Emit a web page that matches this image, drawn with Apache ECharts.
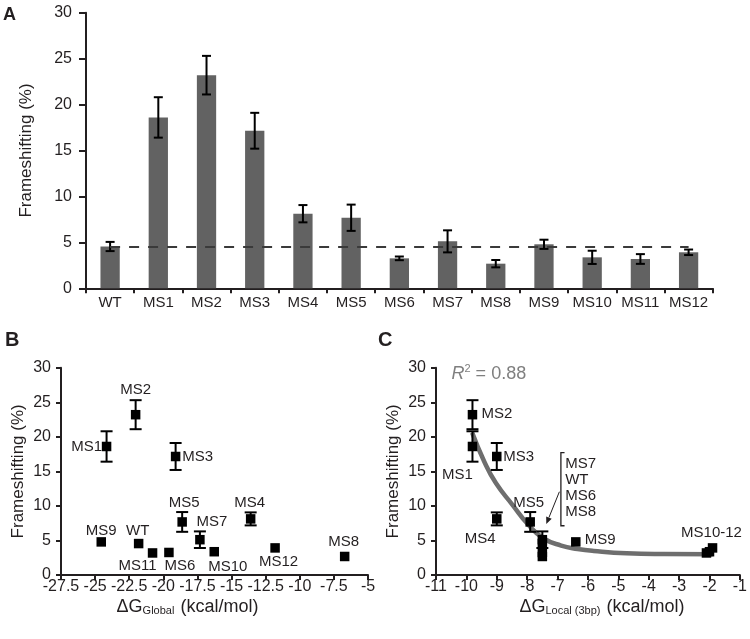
<!DOCTYPE html>
<html><head><meta charset="utf-8">
<script src="https://cdn.jsdelivr.net/npm/echarts@6/dist/echarts.min.js"></script>
<style>html,body{margin:0;padding:0;background:#fff}#c{width:750px;height:639px}</style>
</head><body><div id="c"></div>
<script>
// ---- data ----
const categories = ['WT','MS1','MS2','MS3','MS4','MS5','MS6','MS7','MS8','MS9','MS10','MS11','MS12'];
const frameshift = [4.55, 18.6, 23.2, 17.15, 8.12, 7.68, 3.26, 5.11, 2.68, 4.79, 3.37, 3.19, 3.92];
const frameshiftErr = [0.5, 2.2, 2.1, 1.95, 0.94, 1.43, 0.2, 1.2, 0.4, 0.5, 0.72, 0.53, 0.3];
const dGGlobal = [-21.81, -24.16, -22.03, -19.1, -13.6, -18.62, -19.59, -17.32, -6.71, -24.55, -16.27, -20.79, -11.81];
const dGLocal = [-7.5, -9.8, -9.8, -9.0, -9.0, -7.9, -7.5, -7.5, -7.5, -6.4, -2.0, -2.1, -1.9];
const fitX = [-9.81, -9.41, -9.03, -8.49, -7.96, -7.47, -6.88, -6.34, -5.81, -4.73, -3.5, -1.9];
const fitY = [20.6, 16.4, 13.3, 10.2, 7.26, 5.32, 4.26, 3.77, 3.48, 3.14, 3.03, 3.0];
const yTicksPct = {min: 0, max: 30, interval: 5};
const xTicksGlobal = {min: -27.5, max: -5, interval: 2.5};
const xTicksLocal = {min: -11, max: -1, interval: 1};
const rSquared = '0.88';
const bracketNames = ['MS7', 'WT', 'MS6', 'MS8'];

// ---- styles / label layout ----
const font = "'Liberation Sans', Arial, Helvetica, sans-serif";
const ink = '#231f20';
const symSize = 9.5;
const labelOffB = {WT:[-1,-13], MS1:[-20,0], MS2:[0,-25], MS3:[22,0], MS4:[-1,-16], MS5:[2,-19],
  MS6:[11,13.5], MS7:[12,-18], MS8:[-1,-15], MS9:[0,-11], MS10:[13.5,15], MS11:[-15,13], MS12:[3.5,13.5]};
const labelOffC = {MS1:[-15,28.5], MS2:[24.5,-1], MS3:[22,0], MS4:[-16.5,19.5], MS5:[-1.5,-19],
  MS9:[24.5,-2.5], MS10:[2,-19]};
const labelTextC = {MS10:'MS10-12'};
const minVisibleErr = 0.9; // smaller bars hide inside the square markers in B and C

const chart = echarts.init(document.getElementById('c'));

function axisCommon(extra) {
  return Object.assign({
    axisLine: {show: true, onZero: false, lineStyle: {color: ink, width: 2}},
    axisTick: {show: true, inside: false, length: 5, lineStyle: {color: ink, width: 2}},
    splitLine: {show: false},
    axisLabel: {color: ink, fontFamily: font, fontSize: 16, margin: 4, hideOverlap: false}
  }, extra);
}

function errorSeries(xi, yi, data, capW) {
  return {
    type: 'custom', xAxisIndex: xi, yAxisIndex: yi, data: data, z: 4, silent: true,
    encode: {x: 0, y: [1, 2]},
    renderItem: function (params, api) {
      const x = api.value(0), lo = api.value(1), hi = api.value(2);
      const a = api.coord([x, lo]), b = api.coord([x, hi]);
      const st = {stroke: '#000', lineWidth: 2};
      return {type: 'group', children: [
        {type: 'line', shape: {x1: a[0], y1: a[1], x2: b[0], y2: b[1]}, style: st},
        {type: 'line', shape: {x1: a[0] - capW / 2, y1: a[1], x2: a[0] + capW / 2, y2: a[1]}, style: st},
        {type: 'line', shape: {x1: b[0] - capW / 2, y1: b[1], x2: b[0] + capW / 2, y2: b[1]}, style: st}
      ]};
    }
  };
}

const errA = categories.map((c, i) => [c, frameshift[i] - frameshiftErr[i], frameshift[i] + frameshiftErr[i]]);
const errB = categories.map((c, i) => [dGGlobal[i], frameshift[i] - frameshiftErr[i], frameshift[i] + frameshiftErr[i]])
  .filter((d, i) => frameshiftErr[i] >= minVisibleErr);
const errC = categories.map((c, i) => [dGLocal[i], frameshift[i] - frameshiftErr[i], frameshift[i] + frameshiftErr[i]])
  .filter((d, i) => frameshiftErr[i] >= minVisibleErr);

function ptLabel(off, text) {
  return {
    show: true, position: [symSize / 2 + off[0], symSize / 2 + off[1]], align: 'center', verticalAlign: 'middle',
    color: ink, opacity: 1, fontFamily: font, fontSize: 15, textBorderWidth: 0, formatter: text
  };
}

const ptsB = categories.map((c, i) => ({
  name: c, value: [dGGlobal[i], frameshift[i]], label: ptLabel(labelOffB[c], c)
}));
const ptsC = categories.map((c, i) => ({
  name: c, value: [dGLocal[i], frameshift[i]],
  label: labelOffC[c] ? ptLabel(labelOffC[c], labelTextC[c] || c) : {show: false}
}));

const subRich = function () {
  return {
    d: {fontSize: 18, fontFamily: font, color: ink, lineHeight: 22, verticalAlign: 'bottom'},
    s: {fontSize: 11, fontFamily: font, color: ink, lineHeight: 14, verticalAlign: 'bottom', padding: [0, 1, 0, 0]}
  };
};

const yNameStyle = {fontSize: 17, fontFamily: font, color: ink};

chart.setOption({
  animation: false,
  backgroundColor: '#fff',
  grid: [
    {left: 86, top: 12.7, width: 626.7, height: 275.6},
    {left: 61, top: 367.7, width: 307, height: 207.3},
    {left: 436, top: 367.7, width: 309.7, height: 207.3}
  ],
  xAxis: [
    axisCommon({type: 'category', gridIndex: 0, data: categories,
      axisTick: {show: true, inside: false, length: 5, alignWithLabel: false, interval: 0, lineStyle: {color: ink, width: 2}},
      axisLabel: {color: ink, fontFamily: font, fontSize: 15, margin: 7, interval: 0}}),
    axisCommon({type: 'value', gridIndex: 1, min: xTicksGlobal.min, max: xTicksGlobal.max, interval: xTicksGlobal.interval,
      name: '{d|ΔG}{s|Global}{d| (kcal/mol)}', nameLocation: 'middle', nameGap: 19,
      nameTextStyle: {rich: subRich(), padding: [0, 54, 0, 0]}}),
    axisCommon({type: 'value', gridIndex: 2, min: xTicksLocal.min, max: xTicksLocal.max, interval: xTicksLocal.interval,
      name: '{d|ΔG}{s|Local (3bp)}{d| (kcal/mol)}', nameLocation: 'middle', nameGap: 19,
      nameTextStyle: {rich: subRich(), padding: [0, 0, 0, 28]}})
  ],
  yAxis: [
    axisCommon({type: 'value', gridIndex: 0, min: yTicksPct.min, max: yTicksPct.max, interval: yTicksPct.interval,
      axisTick: {show: true, inside: false, length: 7, lineStyle: {color: ink, width: 2}},
      axisLabel: {color: ink, fontFamily: font, fontSize: 16, margin: 14},
      name: 'Frameshifting (%)', nameLocation: 'middle', nameGap: 51, nameTextStyle: yNameStyle}),
    axisCommon({type: 'value', gridIndex: 1, min: yTicksPct.min, max: yTicksPct.max, interval: yTicksPct.interval,
      axisLabel: {color: ink, fontFamily: font, fontSize: 16, margin: 10},
      name: 'Frameshifting (%)', nameLocation: 'middle', nameGap: 34, nameTextStyle: yNameStyle}),
    axisCommon({type: 'value', gridIndex: 2, min: yTicksPct.min, max: yTicksPct.max, interval: yTicksPct.interval,
      axisLabel: {color: ink, fontFamily: font, fontSize: 16, margin: 10},
      name: 'Frameshifting (%)', nameLocation: 'middle', nameGap: 34, nameTextStyle: yNameStyle})
  ],
  series: [
    {
      type: 'bar', xAxisIndex: 0, yAxisIndex: 0, data: frameshift, barWidth: '40%',
      itemStyle: {color: '#626262'}, silent: true, z: 2,
      markLine: {
        silent: true, symbol: ['none', 'none'], label: {show: false}, z: 6,
        lineStyle: {color: '#3a3a3a', width: 2, type: [10, 9]},
        data: [[{coord: [categories[0], frameshift[0]]}, {coord: [categories[categories.length - 1], frameshift[0]]}]]
      }
    },
    errorSeries(0, 0, errA, 9),
    errorSeries(1, 1, errB, 12),
    {
      type: 'scatter', xAxisIndex: 1, yAxisIndex: 1, data: ptsB, symbol: 'rect', symbolSize: symSize,
      itemStyle: {color: '#000', opacity: 1}, z: 5, silent: true, emphasis: {disabled: true}
    },
    {
      type: 'line', xAxisIndex: 2, yAxisIndex: 2, data: fitX.map((x, i) => [x, fitY[i]]), smooth: 0.5,
      showSymbol: false, symbol: 'none', lineStyle: {color: '#6e6e6e', width: 4.5}, z: 2, silent: true
    },
    errorSeries(2, 2, errC, 12),
    {
      type: 'scatter', xAxisIndex: 2, yAxisIndex: 2, data: ptsC, symbol: 'rect', symbolSize: symSize,
      itemStyle: {color: '#000', opacity: 1}, z: 5, silent: true, emphasis: {disabled: true}
    }
  ]
});

// ---- annotations placed through panel C's own scales ----
const P = (x, y) => chart.convertToPixel({gridIndex: 2}, [x, y]);
const rPos = P(-10.49, 29.2);
const bTop = P(-6.89, 17.7), bBot = P(-6.89, 7.13), bTickEnd = P(-6.77, 7.13);
const txtPos = P(-6.75, 12.6);
const aStart = P(-6.94, 12.05), aEnd = P(-7.37, 7.38);
const dx = aEnd[0] - aStart[0], dy = aEnd[1] - aStart[1];
const len = Math.sqrt(dx * dx + dy * dy), ux = dx / len, uy = dy / len;
const hl = 7, hw = 3;
const base = [aEnd[0] - ux * hl, aEnd[1] - uy * hl];
const tickW = bTickEnd[0] - bBot[0];

chart.setOption({
  graphic: [
    {type: 'text', left: 3, top: 6, style: {text: 'A', font: 'bold 18px ' + font, fill: ink}},
    {type: 'text', left: 5, top: 330, style: {text: 'B', font: 'bold 20px ' + font, fill: ink}},
    {type: 'text', left: 378, top: 330, style: {text: 'C', font: 'bold 20px ' + font, fill: ink}},
    {type: 'text', x: rPos[0], y: rPos[1], style: {
      text: '{i|R}{p|2}{n| = ' + rSquared + '}', verticalAlign: 'middle', align: 'left',
      rich: {
        i: {fontSize: 18, fontStyle: 'italic', fontFamily: font, fill: '#7f7f7f', color: '#7f7f7f', lineHeight: 20, verticalAlign: 'bottom'},
        p: {fontSize: 11, fontFamily: font, fill: '#7f7f7f', color: '#7f7f7f', lineHeight: 20, verticalAlign: 'top'},
        n: {fontSize: 18, fontFamily: font, fill: '#7f7f7f', color: '#7f7f7f', lineHeight: 20, verticalAlign: 'bottom'}
      }}},
    {type: 'polyline', shape: {points: [[bTop[0] + tickW, bTop[1]], bTop, bBot, [bBot[0] + tickW, bBot[1]]]},
      style: {stroke: ink, lineWidth: 1.3, fill: null}},
    {type: 'text', x: txtPos[0], y: txtPos[1], style: {
      text: bracketNames.join('\n'), font: '15px ' + font, fill: ink, lineHeight: 16, verticalAlign: 'middle', align: 'left'}},
    {type: 'line', shape: {x1: aStart[0], y1: aStart[1], x2: base[0], y2: base[1]}, style: {stroke: ink, lineWidth: 1}},
    {type: 'polygon', shape: {points: [aEnd, [base[0] - uy * hw, base[1] + ux * hw], [base[0] + uy * hw, base[1] - ux * hw]]},
      style: {fill: ink}}
  ]
});
</script>
</body></html>
